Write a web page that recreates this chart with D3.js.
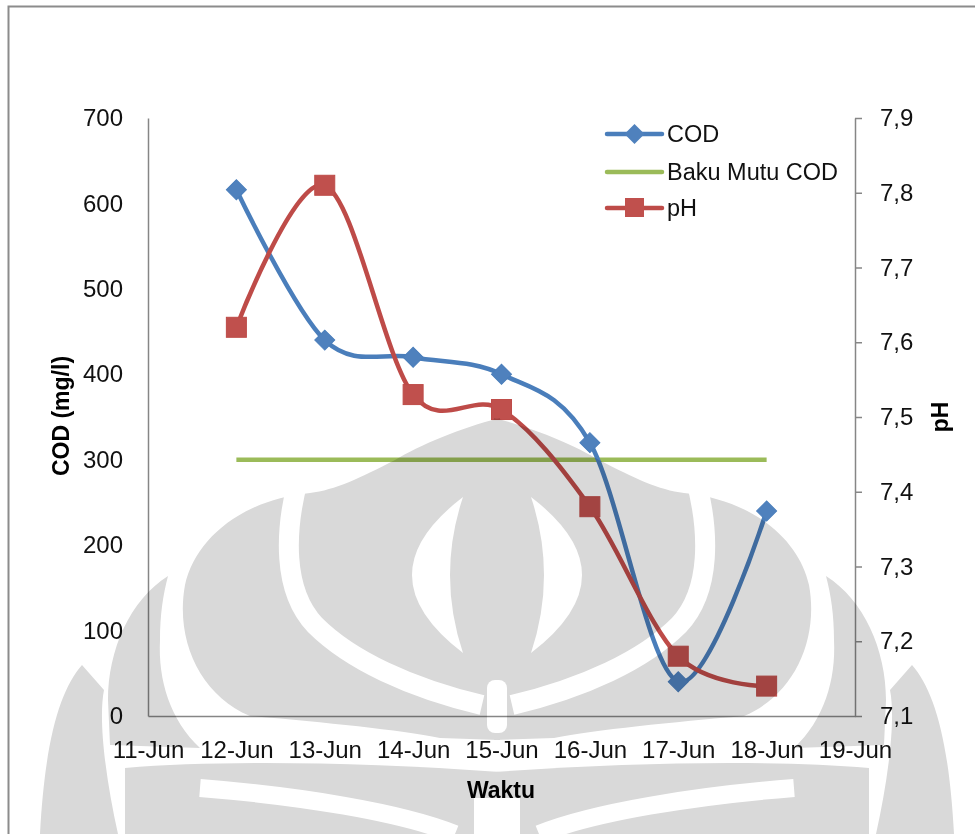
<!DOCTYPE html>
<html><head><meta charset="utf-8">
<script src="https://cdn.jsdelivr.net/npm/d3@7"></script>
<style>html,body{margin:0;padding:0;background:#fff;} svg{display:block;font-family:"Liberation Sans",Arial,sans-serif;}</style>
</head><body><svg id="chart" width="975" height="834"></svg>
<script>
// ---- data ----
const dates = ["2011-06-12","2011-06-13","2011-06-14","2011-06-15","2011-06-16","2011-06-17","2011-06-18"];
const codValues = [616, 440, 420, 400, 320, 40, 240];
const bakuMutuValues = [300, 300, 300, 300, 300, 300, 300];
const phValues = [7.62, 7.81, 7.53, 7.51, 7.38, 7.18, 7.14];
const xDomain = ["2011-06-11", "2011-06-19"];
const codTicks = [0, 100, 200, 300, 400, 500, 600, 700];
const phTicks = [7.1, 7.2, 7.3, 7.4, 7.5, 7.6, 7.7, 7.8, 7.9];
const seriesNames = ["COD", "Baku Mutu COD", "pH"];
const axisTitles = {left: "COD (mg/l)", right: "pH", bottom: "Waktu"};

// ---- setup ----
const svg = d3.select("#chart");
const parse = d3.timeParse("%Y-%m-%d");
const X0 = 148, X1 = 855, YT = 118, YB = 716;
const x = d3.scaleTime().domain(xDomain.map(parse)).range([X0, X1]);
const yL = d3.scaleLinear().domain([0, 700]).range([YB, YT]);
const yR = d3.scaleLinear().domain([7.1, 7.9]).range([YB, YT]);
const axisColor = "#868686";
const blue = "#4a7ebb", blueM = "#4f81bd", red = "#be4b48", redM = "#c0504d", green = "#9bbb59";
const comma = d3.formatLocale({decimal: ",", thousands: ".", grouping: [3], currency: ["", ""]}).format(".1f");

// outer frame
svg.append("rect").attr("x", 8.5).attr("y", 6.5).attr("width", 1100).attr("height", 1100)
  .attr("fill", "none").attr("stroke", "#8c8c8c").attr("stroke-width", 2);

// axes
const gL = svg.append("g").attr("transform", `translate(${X0},0)`)
  .call(d3.axisLeft(yL).tickValues(codTicks).tickSize(0).tickSizeOuter(0).tickPadding(25));
const gR = svg.append("g").attr("transform", `translate(${X1},0)`)
  .call(d3.axisRight(yR).tickValues(phTicks).tickSize(7).tickSizeOuter(0).tickPadding(18).tickFormat(comma));
const gB = svg.append("g").attr("transform", `translate(0,${YB})`)
  .call(d3.axisBottom(x).ticks(d3.timeDay.every(1)).tickSize(0).tickSizeOuter(0).tickPadding(25).tickFormat(d3.timeFormat("%-d-%b")));
[gL, gR, gB].forEach(g => {
  g.selectAll("path.domain").attr("stroke", axisColor).attr("stroke-width", 1.5);
  g.selectAll(".tick line").attr("stroke", axisColor).attr("stroke-width", 1.5);
  g.selectAll("text").attr("font-size", 24).attr("fill", "#111").attr("font-family", "Liberation Sans, Arial, sans-serif");
});

// axis titles
svg.append("text").attr("transform", "translate(61,416) rotate(-90)").attr("text-anchor", "middle")
  .attr("dy", "0.35em").attr("font-weight", "bold").attr("font-size", 23).text(axisTitles.left);
svg.append("text").attr("transform", "translate(940,417) rotate(-90)").attr("text-anchor", "middle")
  .attr("dy", "0.35em").attr("font-weight", "bold").attr("font-size", 23).text(axisTitles.right);
svg.append("text").attr("x", 501).attr("y", 798).attr("text-anchor", "middle")
  .attr("font-weight", "bold").attr("font-size", 23).text(axisTitles.bottom);

// series
const pts = (vals, ys) => dates.map((d, i) => [x(parse(d)), ys(vals[i])]);
const line = d3.line().curve(d3.curveCardinal.tension(0));
const codPts = pts(codValues, yL), bmPts = pts(bakuMutuValues, yL), phPts = pts(phValues, yR);

svg.append("path").attr("d", d3.line()(bmPts)).attr("fill", "none").attr("stroke", green).attr("stroke-width", 4.5);
svg.append("path").attr("d", line(codPts)).attr("fill", "none").attr("stroke", blue).attr("stroke-width", 4.5).attr("stroke-linejoin", "round");
svg.append("path").attr("d", line(phPts)).attr("fill", "none").attr("stroke", red).attr("stroke-width", 4.5).attr("stroke-linejoin", "round");

const diamond = d3.symbol().type(d3.symbolSquare).size(200);
svg.selectAll(".dia").data(codPts).join("path").attr("class", "dia")
  .attr("d", diamond).attr("transform", d => `translate(${d[0]},${d[1]}) rotate(45)`)
  .attr("fill", blueM).attr("stroke", blue).attr("stroke-width", 1);
svg.selectAll(".sq").data(phPts).join("rect").attr("class", "sq")
  .attr("x", d => d[0] - 10).attr("y", d => d[1] - 10).attr("width", 20).attr("height", 20)
  .attr("fill", redM).attr("stroke", red).attr("stroke-width", 1);

// legend
const legY = [134, 172, 208], legColors = [blue, green, red];
const leg = svg.append("g");
seriesNames.forEach((name, i) => {
  leg.append("line").attr("x1", 607).attr("x2", 662).attr("y1", legY[i]).attr("y2", legY[i])
    .attr("stroke", legColors[i]).attr("stroke-width", 4.5).attr("stroke-linecap", "round");
  if (i === 0) leg.append("path").attr("d", diamond).attr("transform", `translate(634.5,${legY[i]}) rotate(45)`).attr("fill", blueM);
  if (i === 2) leg.append("rect").attr("x", 625).attr("y", legY[i] - 10).attr("width", 19).attr("height", 19).attr("fill", redM);
  leg.append("text").attr("x", 667).attr("y", legY[i]).attr("dy", "0.35em").attr("font-size", 23.5).attr("fill", "#111").text(name);
});

// watermark (faint logo, multiplied over the chart)
const wm = svg.append("g").style("mix-blend-mode", "multiply").attr("pointer-events", "none");
function half(g) {
  const gray = "#d9d9d9";
  g.append("path").attr("fill", gray).attr("d",
    "M500 418 C460 428 420 445 395 460 C360 478 335 490 310 493 C240 500 195 540 185 585 C175 640 200 695 250 716 C320 722 400 730 440 738 L500 740 Z");
  g.append("path").attr("fill", gray).attr("d",
    "M168 576 C130 600 108 650 108 700 L110 745 L200 748 C170 720 158 680 160 640 C160 615 163 595 168 576 Z");
  g.append("path").attr("fill", gray).attr("d",
    "M82 665 C60 690 45 740 40 834 L118 834 C106 780 98 720 104 690 Z");
  g.append("path").attr("fill", gray).attr("d",
    "M125 768 C220 760 360 762 500 772 L500 834 L125 834 Z");
  g.append("path").attr("fill", "none").attr("stroke", "#fff").attr("stroke-width", 20).attr("d",
    "M298 480 C285 530 282 590 315 625 C350 660 410 688 482 705");
  g.append("path").attr("fill", "#fff").attr("d", "M463 497 Q361 575 463 653 Q437 575 463 497 Z");
  g.append("path").attr("fill", "none").attr("stroke", "#fff").attr("stroke-width", 18).attr("d",
    "M200 788 C300 796 400 812 455 834");
}
half(wm.append("g"));
half(wm.append("g").attr("transform", "translate(994,0) scale(-1,1)"));
wm.append("rect").attr("x", 487).attr("y", 680).attr("width", 20).attr("height", 53).attr("rx", 8).attr("fill", "#fff");
wm.append("rect").attr("x", 474).attr("y", 798).attr("width", 46).attr("height", 40).attr("fill", "#fff");
</script></body></html>
